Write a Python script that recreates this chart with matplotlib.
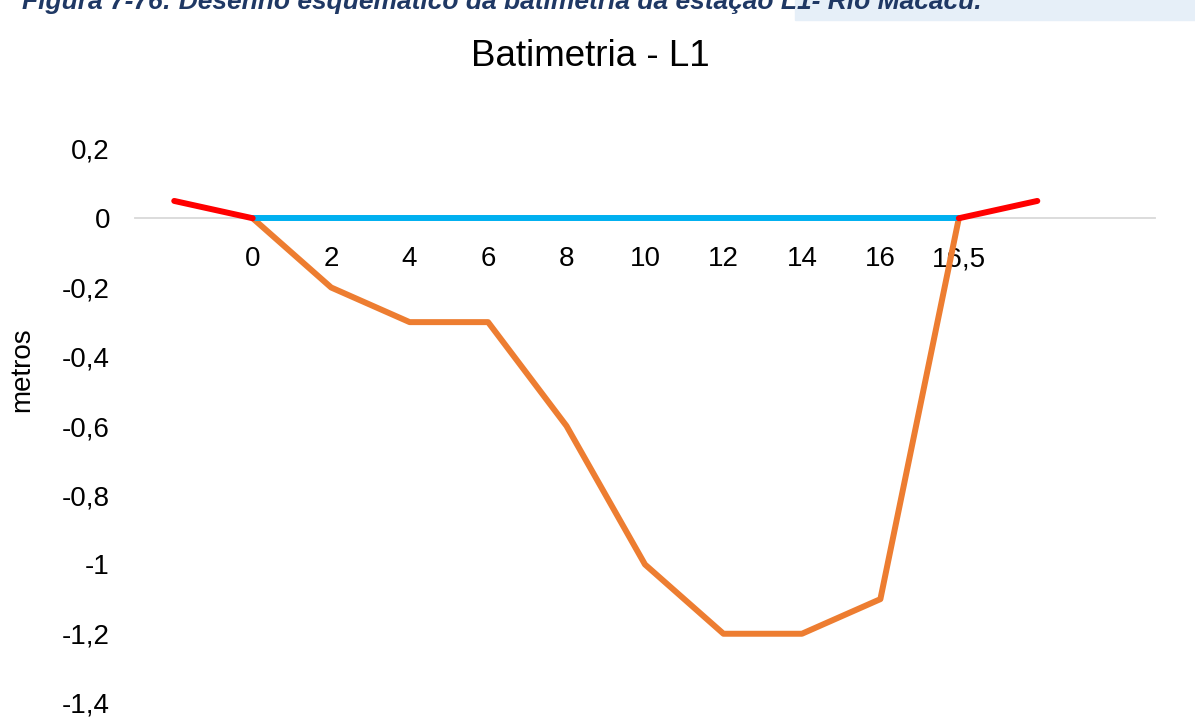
import matplotlib
matplotlib.use("Agg")
import matplotlib.pyplot as plt
from matplotlib.patches import Rectangle

plt.rcParams["font.family"] = ["Liberation Sans", "DejaVu Sans"]

# category axis: blank slot, stations, then blank slots
categories = ["", "0", "2", "4", "6", "8", "10", "12", "14", "16", "16,5", "", ""]
bed_idx = [1, 2, 3, 4, 5, 6, 7, 8, 9, 10]
bed_depth = [0, -0.2, -0.3, -0.3, -0.6, -1.0, -1.2, -1.2, -1.1, 0]
water_idx = [1, 10]
water_level = [0, 0]
bank_left_idx = [0, 1]
bank_left = [0.05, 0]
bank_right_idx = [10, 11]
bank_right = [0, 0.05]
yticks = [0.2, 0, -0.2, -0.4, -0.6, -0.8, -1.0, -1.2, -1.4]
ytick_labels = ["0,2", "0", "-0,2", "-0,4", "-0,6", "-0,8", "-1", "-1,2", "-1,4"]

W, H = 1195, 720
fig = plt.figure(figsize=(W / 100, H / 100), dpi=100)
ax = fig.add_axes([135 / W, 1 - 703 / H, 1020 / W, 554 / H])

lw = 4.3
ax.plot(bed_idx, bed_depth, color="#ED7D31", lw=lw, solid_capstyle="round",
        solid_joinstyle="round", zorder=3)
ax.plot(water_idx, water_level, color="#00B0F0", lw=lw, solid_capstyle="round", zorder=4)
ax.plot(bank_left_idx, bank_left, color="#FF0000", lw=lw, solid_capstyle="round", zorder=5)
ax.plot(bank_right_idx, bank_right, color="#FF0000", lw=lw, solid_capstyle="round", zorder=5)

for s in ("top", "right", "left"):
    ax.spines[s].set_visible(False)
# x axis crosses at zero (resets ticks, so style them afterwards)
ax.spines["bottom"].set_position(("data", 0))
ax.spines["bottom"].set_color("#d9d9d9")
ax.spines["bottom"].set_linewidth(1.3)
ax.patch.set_visible(False)

ax.set_xlim(-0.5, len(categories) - 0.5)
ax.set_ylim(-1.4, 0.2)
ax.set_xticks(range(len(categories)))
ax.set_xticklabels(categories)
ax.set_yticks(yticks)
ax.set_yticklabels(ytick_labels)
ax.tick_params(axis="x", length=0, pad=20, labelsize=20)
ax.tick_params(axis="y", length=0, pad=18, labelsize=20)

fig.text(590 / W, 1 - 57 / H, "Batimetria - L1", ha="center", va="center", fontsize=26.5)
fig.text(22 / W, 1 - 370 / H, "metros", rotation=90, ha="center", va="center", fontsize=20)

# clipped caption band at the top
fig.patches.append(Rectangle((795 / W, 1 - 20 / H), 400 / W, 20 / H,
                             transform=fig.transFigure, color="#E6EFF8", zorder=0))
fig.text(22 / W, 1 - 9 / H,
         "Figura 7-76: Desenho esquemático da batimetria da estação L1- Rio Macacu.",
         ha="left", va="baseline", fontsize=19, fontweight="bold", fontstyle="italic",
         color="#1F3864")

fig.savefig("out.png", dpi=100)
